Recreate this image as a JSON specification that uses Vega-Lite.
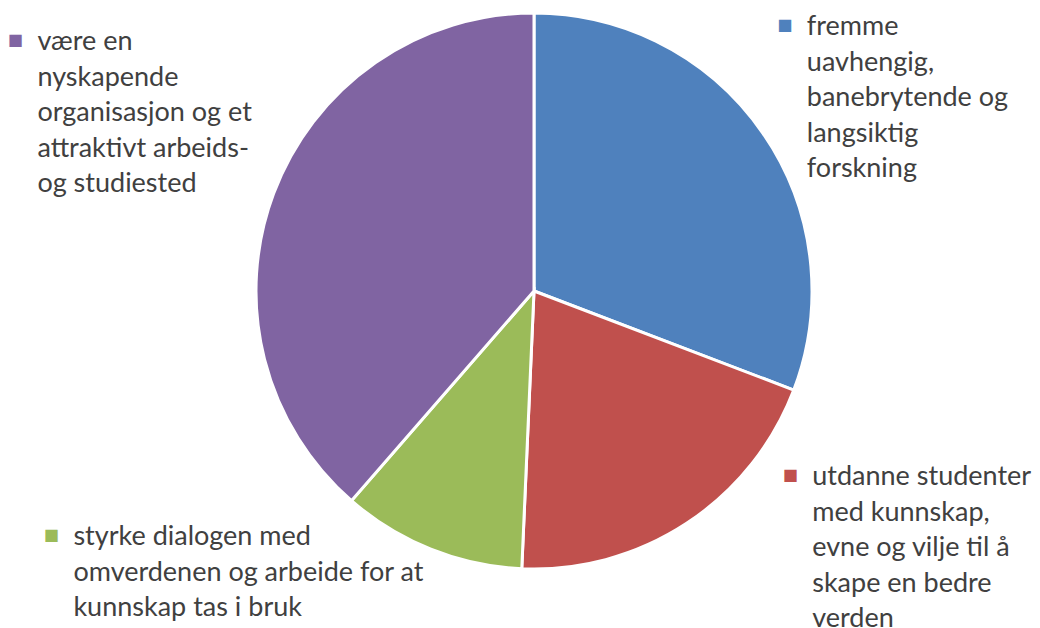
{
  "$schema": "https://vega.github.io/schema/vega-lite/v6.json",
  "autosize": {"type": "none"},
  "width": 1012,
  "height": 582,
  "padding": {"left": 28, "top": 0, "right": 0, "bottom": 46},
  "background": "white",
  "config": {"view": {"stroke": null}},
  "data": {
    "values": [
      {"rank": 1, "category": "fremme uavhengig, banebrytende og langsiktig forskning", "label": "fremme\nuavhengig,\nbanebrytende og\nlangsiktig\nforskning", "value": 30.8},
      {"rank": 2, "category": "utdanne studenter med kunnskap, evne og vilje til å skape en bedre verden", "label": "utdanne studenter\nmed kunnskap,\nevne og vilje til å\nskape en bedre\nverden", "value": 19.9},
      {"rank": 3, "category": "styrke dialogen med omverdenen og arbeide for at kunnskap tas i bruk", "label": "styrke dialogen med\nomverdenen og arbeide for at\nkunnskap tas i bruk", "value": 10.7},
      {"rank": 4, "category": "være en nyskapende organisasjon og et attraktivt arbeids- og studiested", "label": "være en\nnyskapende\norganisasjon og et\nattraktivt arbeids-\nog studiested", "value": 38.6}
    ]
  },
  "encoding": {
    "theta": {"field": "value", "type": "quantitative", "stack": true},
    "order": {"field": "rank", "type": "quantitative"}
  },
  "layer": [
    {
      "mark": {"type": "arc", "outerRadius": 278, "stroke": "white", "strokeWidth": 3},
      "encoding": {
        "color": {
          "field": "category",
          "type": "nominal",
          "sort": null,
          "scale": {"range": ["#4F81BD", "#C0504D", "#9BBB59", "#8064A2"]},
          "legend": null
        }
      }
    },
    {
      "mark": {
        "type": "text",
        "radius": 290,
        "align": "left",
        "baseline": "alphabetic",
        "font": "Lato",
        "fontSize": 27,
        "lineHeight": 35.5,
        "lineBreak": "\n",
        "color": "#404040",
        "dx": {"expr": "datum.rank == 1 ? 34 : datum.rank == 2 ? 119 : datum.rank == 3 ? -353 : -225"},
        "dy": {"expr": "datum.rank == 1 ? -91 : datum.rank == 2 ? -48 : datum.rank == 3 ? -15 : -139"}
      },
      "encoding": {
        "text": {"field": "label"},
        "detail": {"field": "category"}
      }
    },
    {
      "mark": {
        "type": "text",
        "radius": 290,
        "align": "center",
        "baseline": "middle",
        "font": "DejaVu Sans",
        "fontSize": 16,
        "text": "■",
        "dx": {"expr": "(datum.rank == 1 ? 34 : datum.rank == 2 ? 119 : datum.rank == 3 ? -353 : -225) - 22"},
        "dy": {"expr": "(datum.rank == 1 ? -91 : datum.rank == 2 ? -48 : datum.rank == 3 ? -15 : -139) - 10"}
      },
      "encoding": {
        "color": {"field": "category", "type": "nominal", "sort": null, "legend": null}
      }
    }
  ]
}
